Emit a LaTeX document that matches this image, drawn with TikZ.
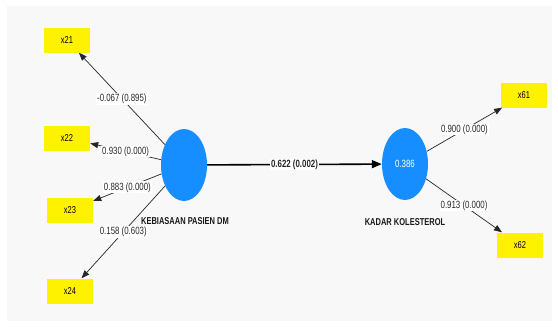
\documentclass[tikz,border=0pt]{standalone}
\usepackage{fontspec}
\setmainfont[FakeStretch=0.75]{Liberation Sans}
\usetikzlibrary{arrows.meta,shapes.geometric}
\definecolor{indblue}{RGB}{22,142,255}
\definecolor{bgpanel}{RGB}{248,248,248}
\begin{document}
\begin{tikzpicture}[x=1pt,y=-1pt,
  ind/.style={fill=yellow, minimum width=46pt, minimum height=25pt, inner sep=0pt, font=\fontsize{10}{11}\selectfont},
  lat/.style={ellipse, fill=indblue, minimum width=46pt, minimum height=72pt, inner sep=0pt, text=white, font=\fontsize{10.5}{12}\selectfont},
  load/.style={-{Triangle[length=8pt,width=6pt]}, line width=0.7pt, black!85},
  lbl/.style={fill=white, inner sep=1pt, text=black!85, font=\fontsize{10.5}{12}\selectfont},
  latname/.style={font=\bfseries\fontsize{10}{11}\selectfont, text=black!90}]
\useasboundingbox (0,0) rectangle (558,327);
\fill[white] (0,0) rectangle (558,327);
\fill[bgpanel] (7,6) rectangle (552,321);
\node[lat] (kb) at (184,165) {};
\node[lat] (kk) at (405,164) {0.386};
\node[latname] (kbn) at (185,221) {KEBIASAAN PASIEN DM};
\node[latname] (kkn) at (405,222) {KADAR KOLESTEROL};
\node[ind] (x21) at (67,40) {x21};
\node[ind] (x22) at (67,138) {x22};
\node[ind] (x23) at (70,210) {x23};
\node[ind] (x24) at (70,291) {x24};
\node[ind] (x61) at (524,95) {x61};
\node[ind] (x62) at (520,245) {x62};
\draw[load] (kb) -- node[lbl] {-0.067 (0.895)} (x21);
\draw[load] (kb) -- node[lbl] {0.930 (0.000)} (x22);
\draw[load] (kb) -- node[lbl] {0.883 (0.000)} (x23);
\draw[load] (kb) -- node[lbl] {0.158 (0.603)} (x24);
\draw[load] (kk) -- node[lbl] {0.900 (0.000)} (x61);
\draw[load] (kk) -- node[lbl] {0.913 (0.000)} (x62);
\draw[-{Triangle[length=10pt,width=8pt]}, line width=1.6pt] (kb) -- node[lbl, font=\bfseries\fontsize{10.5}{12}\selectfont] {0.622 (0.002)} (kk);
\end{tikzpicture}
\end{document}
